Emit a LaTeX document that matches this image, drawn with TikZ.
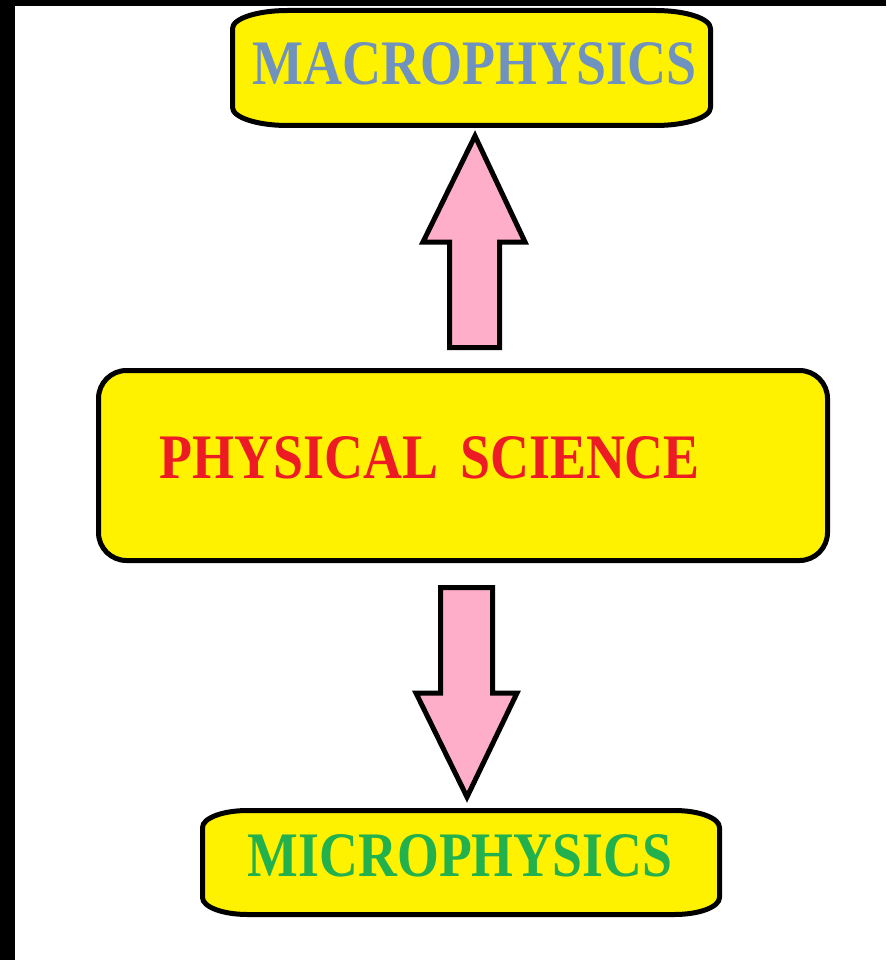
\documentclass[tikz,border=0pt]{standalone}
\usepackage{fontspec}
\usepackage{graphicx}
\newfontfamily\labelfont{Liberation Serif}
\definecolor{boxyellow}{HTML}{FFF200}
\definecolor{arrowpink}{HTML}{FFAEC9}
\definecolor{macroblue}{HTML}{7092BE}
\definecolor{physred}{HTML}{ED1C24}
\definecolor{microgreen}{HTML}{22B14C}
\tikzset{
  boxline/.style={draw=black,line width=5pt,fill=boxyellow,line join=round},
  arrowshape/.style={draw=black,line width=5pt,fill=arrowpink,line join=miter},
  lbl/.style={inner sep=0pt,anchor=center}
}
% elliptical-corner box: x0,y0,x1,y1,rx,ry
\newcommand\ellbox[6]{%
  \path[boxline] (#1+#5,#2) -- (#3-#5,#2)
    arc[start angle=-90,end angle=0,x radius=#5,y radius=#6]
    -- (#3,#4-#6)
    arc[start angle=0,end angle=90,x radius=#5,y radius=#6]
    -- (#1+#5,#4)
    arc[start angle=90,end angle=180,x radius=#5,y radius=#6]
    -- (#1,#2+#6)
    arc[start angle=180,end angle=270,x radius=#5,y radius=#6] -- cycle;}
\begin{document}
\begin{tikzpicture}[x=1pt,y=-1pt]
\useasboundingbox (0,0) rectangle (886,960);
\fill[white] (0,0) rectangle (886,960);
\fill[black] (0,0) rectangle (15,960);
\fill[black] (0,0) rectangle (886,6);

% boxes
\ellbox{232.5}{10.5}{710.5}{125.5}{55}{18}
\ellbox{98.5}{370.5}{827.5}{560.5}{28}{28}
\ellbox{202.5}{810.5}{719.5}{914.5}{45}{17}

% labels
\node[lbl,text=macroblue] (macro) at (475,64)
  {\resizebox{444pt}{42pt}{\labelfont\bfseries MACROPHYSICS}};
\node[lbl,text=physred] (phys) at (430,458)
  {\resizebox{540pt}{42pt}{\labelfont\bfseries PHYSICAL\hspace{0.4em}SCIENCE}};
\node[lbl,text=microgreen] (micro) at (460,856)
  {\resizebox{424pt}{42pt}{\labelfont\bfseries MICROPHYSICS}};

% block arrows
\path[arrowshape] (449.5,347.5) -- (449.5,242) -- (423,242) -- (475,136)
  -- (525,242) -- (499.5,242) -- (499.5,347.5) -- cycle;
\path[arrowshape] (440.5,587.5) -- (492.5,587.5) -- (492.5,693) -- (517,693)
  -- (467,797) -- (416,693) -- (440.5,693) -- cycle;
\end{tikzpicture}
\end{document}
